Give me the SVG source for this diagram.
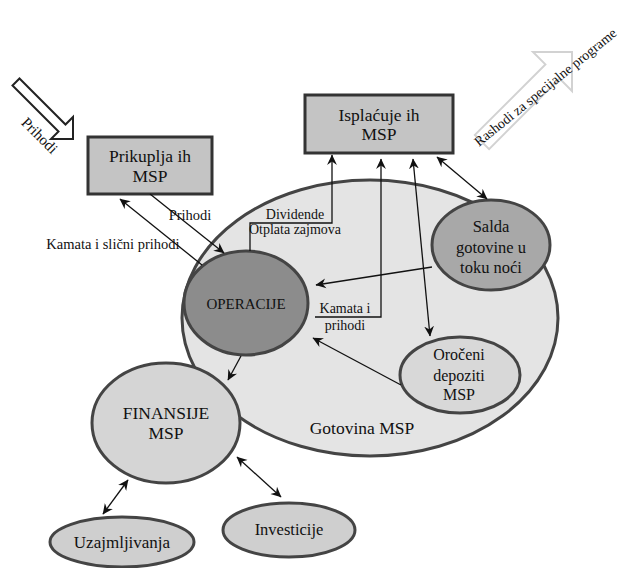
<svg xmlns="http://www.w3.org/2000/svg" width="623" height="568" viewBox="0 0 623 568" font-family="'Liberation Serif', 'Times New Roman', serif">
<defs>
<style>
text{font-family:'Liberation Serif','Times New Roman',serif}
.t{fill:#111;text-anchor:middle}
.box{fill:#c4c4c4;stroke:#333;stroke-width:3}
.el{stroke:#444;stroke-width:3}
.c{fill:none;stroke:#111;stroke-width:1.3}
</style>
<marker id="ah" viewBox="0 0 10 10" refX="9" refY="5" markerWidth="11" markerHeight="11" markerUnits="userSpaceOnUse" orient="auto-start-reverse">
<path d="M0,0.5 L9.5,5 L0,9.5 L3,5 Z" fill="#111"/>
</marker>
</defs>
<rect width="623" height="568" fill="#fff"/>

<g id="gotovina">
<ellipse cx="370" cy="318" rx="188" ry="138" fill="#e4e4e4" class="el"/>
<text class="t" x="362" y="434" font-size="17.5">Gotovina MSP</text>
</g>

<g id="prihodi-arrow">
<polygon points="19.5,78.5 65.5,124.5 73,117 73,139 51,139 58.5,131.5 12.5,85.5" fill="#fff" stroke="#222" stroke-width="2"/>
<text class="t" font-size="15" transform="translate(36,139) rotate(45)">Prihodi</text>
</g>

<g id="rashodi-arrow">
<polygon points="474.9,134.9 545.4,64.4 533,52 572,52 572,91 559.6,78.6 489.1,149.1" fill="#fff" stroke="#d2d2d2" stroke-width="2"/>
<text font-size="14" fill="#111" transform="translate(479,147) rotate(-39)">Rashodi za specijalne programe</text>
</g>

<g id="prikuplja">
<rect class="box" x="88" y="137" width="124" height="57"/>
<text class="t" x="150" y="162" font-size="17.5">Prikuplja ih</text>
<text class="t" x="150" y="182" font-size="17.5">MSP</text>
</g>

<g id="isplacuje">
<rect class="box" x="305" y="95" width="148" height="58"/>
<text class="t" x="379" y="121" font-size="17.5">Isplaćuje ih</text>
<text class="t" x="379" y="140" font-size="17.5">MSP</text>
</g>

<g id="operacije">
<ellipse cx="246" cy="303" rx="62" ry="52" fill="#8c8c8c" class="el"/>
<text class="t" x="246" y="309" font-size="15">OPERACIJE</text>
</g>

<g id="salda">
<ellipse cx="491" cy="245" rx="59" ry="45" fill="#a8a8a8" class="el"/>
<text class="t" x="491" y="232" font-size="16.5">Salda</text>
<text class="t" x="491" y="253" font-size="16.5">gotovine u</text>
<text class="t" x="491" y="273" font-size="16.5">toku noći</text>
</g>

<g id="oroceni">
<ellipse cx="460" cy="375" rx="60" ry="38" fill="#d8d8d8" class="el"/>
<text class="t" x="459" y="360" font-size="16">Oročeni</text>
<text class="t" x="459" y="381" font-size="16">depoziti</text>
<text class="t" x="459" y="400" font-size="16">MSP</text>
</g>

<g id="finansije">
<ellipse cx="166" cy="423" rx="74" ry="60" fill="#d5d5d5" class="el"/>
<text class="t" x="166" y="419" font-size="17.5">FINANSIJE</text>
<text class="t" x="166" y="439" font-size="17.5">MSP</text>
</g>

<g id="uzajmljivanja">
<ellipse cx="122" cy="542" rx="72" ry="25" fill="#cfcfcf" class="el"/>
<text class="t" x="122" y="548" font-size="17">Uzajmljivanja</text>
</g>

<g id="investicije">
<ellipse cx="289" cy="530" rx="66" ry="27" fill="#cfcfcf" class="el"/>
<text class="t" x="289" y="535" font-size="16.5">Investicije</text>
</g>

<g id="connectors">
<line class="c" x1="202" y1="265" x2="120" y2="199" marker-end="url(#ah)"/>
<line class="c" x1="150" y1="194" x2="224" y2="253" marker-end="url(#ah)"/>
<polyline class="c" points="250,251 250,223 332,223 332,155" marker-end="url(#ah)"/>
<polyline class="c" points="315,317 381,317 381,159" marker-end="url(#ah)"/>
<line class="c" x1="413" y1="159" x2="430" y2="336" marker-start="url(#ah)" marker-end="url(#ah)"/>
<line class="c" x1="437" y1="157" x2="487" y2="199" marker-start="url(#ah)" marker-end="url(#ah)"/>
<line class="c" x1="432" y1="267" x2="316" y2="285" marker-end="url(#ah)"/>
<line class="c" x1="401" y1="385" x2="313" y2="338" marker-end="url(#ah)"/>
<line class="c" x1="241" y1="356" x2="228" y2="380" marker-end="url(#ah)"/>
<line class="c" x1="128" y1="480" x2="103" y2="514" marker-start="url(#ah)" marker-end="url(#ah)"/>
<line class="c" x1="237" y1="457" x2="281" y2="497" marker-start="url(#ah)" marker-end="url(#ah)"/>
<text class="t" x="190" y="220" font-size="14.5">Prihodi</text>
<text class="t" x="113" y="249" font-size="14.5">Kamata i slični prihodi</text>
<text class="t" x="295" y="219" font-size="14">Dividende</text>
<text class="t" x="295" y="234" font-size="14">Otplata zajmova</text>
<text class="t" x="345" y="313" font-size="14">Kamata i</text>
<text class="t" x="345" y="330" font-size="14">prihodi</text>
</g>
</svg>
